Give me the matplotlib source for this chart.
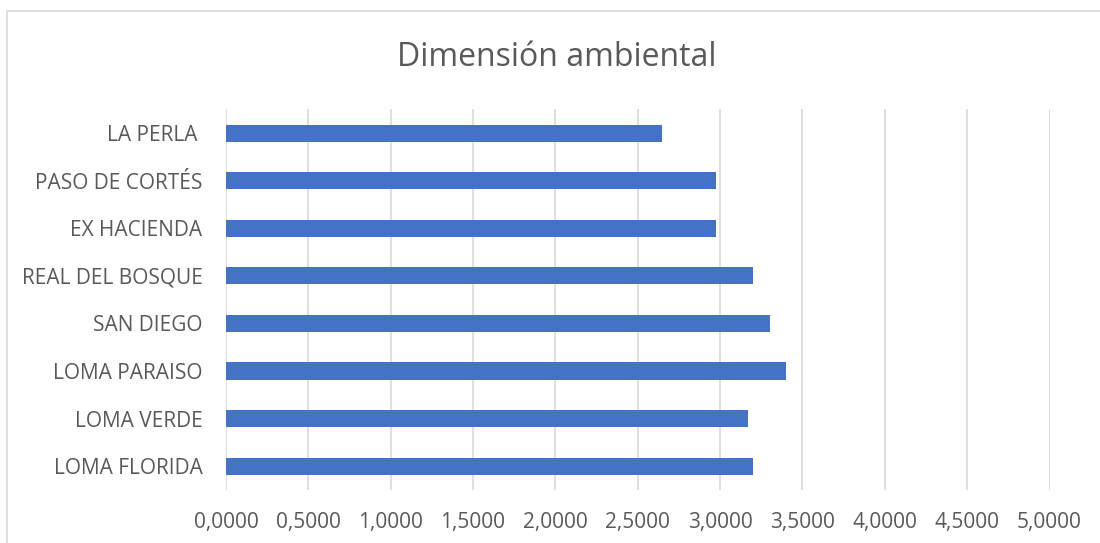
import matplotlib
matplotlib.use('Agg')
import matplotlib.pyplot as plt
from matplotlib.patches import Rectangle

# Barrios, de abajo hacia arriba
colonias = ['LOMA FLORIDA', 'LOMA VERDE', 'LOMA PARAISO', 'SAN DIEGO',
            'REAL DEL BOSQUE', 'EX HACIENDA', 'PASO DE CORTÉS', 'LA PERLA ']
valores = [3.20, 3.17, 3.40, 3.30, 3.20, 2.975, 2.975, 2.65]
ticks_x = [0, 0.5, 1, 1.5, 2, 2.5, 3, 3.5, 4, 4.5, 5]

plt.rcParams['font.family'] = ['Open Sans', 'DejaVu Sans']
gris = '#595959'

fig = plt.figure(figsize=(11, 5.43), dpi=100)
ax = fig.add_axes([226 / 1100, 1 - 490 / 543, 823.5 / 1100, 380.6 / 543])

# marco del área del gráfico
fig.patches.append(Rectangle((7 / 1100, -0.05), 1.2, 1 - 11 / 543 + 0.05,
                             transform=fig.transFigure, fill=False,
                             edgecolor='#d9d9d9', linewidth=1.2))

ax.barh(range(len(colonias)), valores, height=0.36, color='#4472C4',
        zorder=3)
ax.set_xlim(0, 5)
ax.set_ylim(-0.5, len(colonias) - 0.5)
ax.set_xticks(ticks_x)
ax.set_xticklabels([f'{t:.4f}'.replace('.', ',') for t in ticks_x])
ax.set_yticks(range(len(colonias)))
ax.set_yticklabels(colonias)
ax.tick_params(axis='both', length=0, colors=gris, labelsize=15)
ax.tick_params(axis='y', pad=17)
ax.tick_params(axis='x', pad=16)
ax.grid(axis='x', color='#d9d9d9', linewidth=1.2, zorder=0)
for s in ax.spines.values():
    s.set_visible(False)

fig.text(557 / 1100, 1 - 57 / 543, 'Dimensión ambiental', ha='center',
         va='center', fontsize=23, color=gris)

fig.savefig('out.png', dpi=100)
